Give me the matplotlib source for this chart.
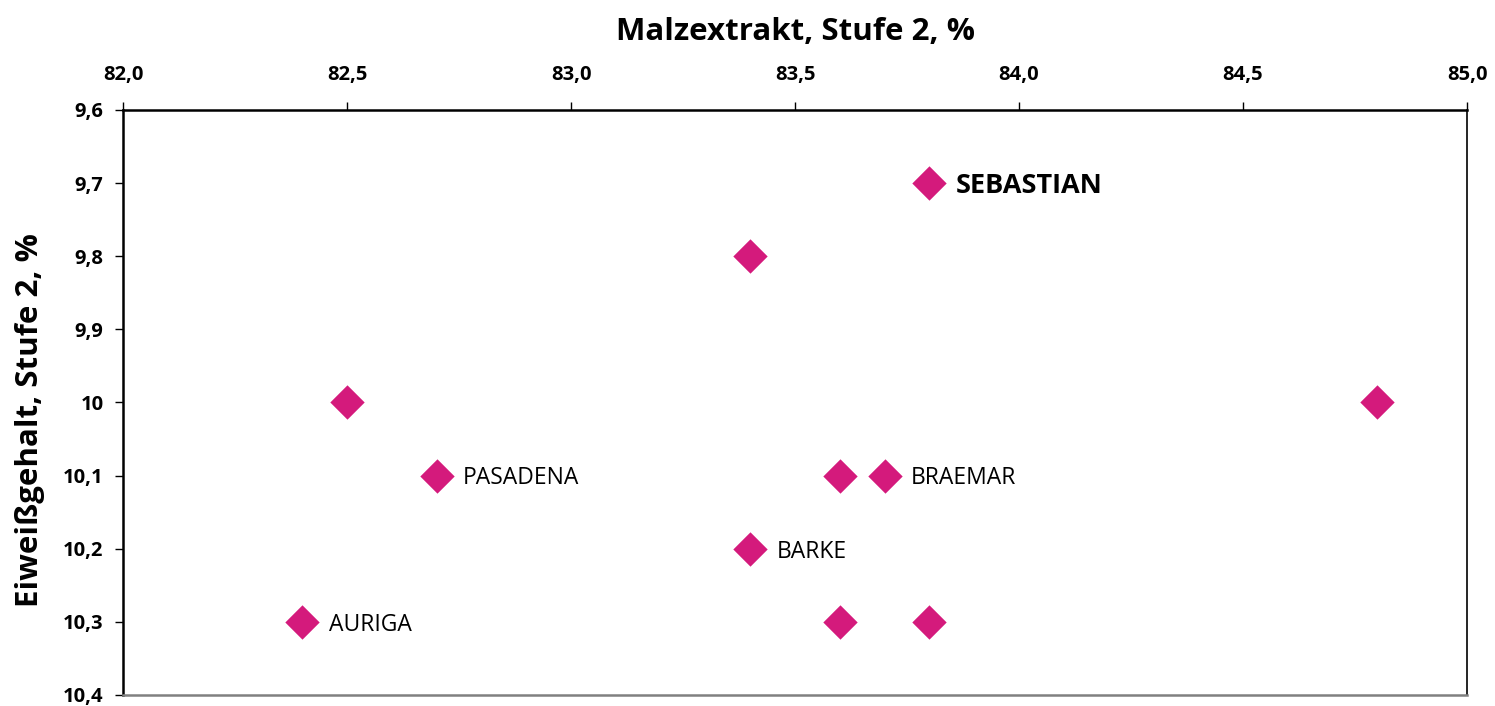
import matplotlib.pyplot as plt

# Malzextrakt (x) vs. Eiweißgehalt (y), Stufe 2
extract = [83.8, 83.4, 82.5, 84.8, 82.7, 83.6, 83.7, 83.4, 82.4, 83.6, 83.8]
protein = [9.7, 9.8, 10.0, 10.0, 10.1, 10.1, 10.1, 10.2, 10.3, 10.3, 10.3]
names = ["SEBASTIAN", "", "", "", "PASADENA", "", "BRAEMAR", "BARKE", "AURIGA", "", ""]

x_ticks = [82.0, 82.5, 83.0, 83.5, 84.0, 84.5, 85.0]
x_labels = ["82,0", "82,5", "83,0", "83,5", "84,0", "84,5", "85,0"]
y_ticks = [9.6, 9.7, 9.8, 9.9, 10.0, 10.1, 10.2, 10.3, 10.4]
y_labels = ["9,6", "9,7", "9,8", "9,9", "10", "10,1", "10,2", "10,3", "10,4"]

plt.rcParams["font.family"] = ["Open Sans", "DejaVu Sans"]
pink = "#D41A7C"

fig = plt.figure(figsize=(14.95, 7.06), dpi=100)
ax = fig.add_axes([0.0823, 0.0156, 0.8990, 0.8286])

ax.scatter(extract, protein, marker="D", s=17.5**2, color=pink, linewidths=0, zorder=3)

for x, y, name in zip(extract, protein, names):
    if not name:
        continue
    bold = name == "SEBASTIAN"
    ax.annotate(name, (x, y), xytext=(19, -2), textcoords="offset points",
                va="center", ha="left", fontsize=19.5 if bold else 16.5,
                fontweight="bold" if bold else "normal", color="black")

ax.set_xlim(82.0, 85.0)
ax.set_ylim(10.4, 9.6)
ax.xaxis.tick_top()
ax.xaxis.set_label_position("top")
ax.set_xticks(x_ticks)
ax.set_xticklabels(x_labels, fontsize=14.5, fontweight="bold")
ax.set_yticks(y_ticks)
ax.set_yticklabels(y_labels, fontsize=14.5, fontweight="bold")
ax.tick_params(axis="x", direction="out", length=6, width=1, pad=12)
ax.tick_params(axis="y", direction="out", length=6, width=1, pad=8)

ax.set_xlabel("Malzextrakt, Stufe 2, %", fontsize=22.5, fontweight="bold", labelpad=18)
ax.set_ylabel("Eiweißgehalt, Stufe 2, %", fontsize=22.5, fontweight="bold")
ax.yaxis.set_label_coords(-0.058, 0.47)

ax.spines["top"].set_linewidth(1.8)
ax.spines["left"].set_linewidth(1.8)
ax.spines["right"].set_linewidth(1.2)
ax.spines["bottom"].set_linewidth(1.8)
ax.spines["bottom"].set_color("#808080")

fig.savefig("out.png", dpi=100)
